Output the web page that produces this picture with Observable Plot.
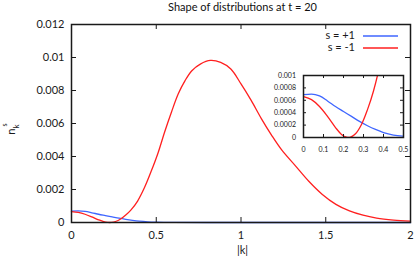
<!DOCTYPE html>
<html><head><meta charset="utf-8">
<script src="https://cdn.jsdelivr.net/npm/d3@7"></script>
<script src="https://cdn.jsdelivr.net/npm/@observablehq/plot@0.6"></script>
<style>
body{margin:0;background:#fff;}
#wrap{position:relative;width:416px;height:259px;font-family:Lato,sans-serif;overflow:hidden;}
#wrap svg{position:absolute;left:0;top:0;}
#title{position:absolute;left:71px;width:343px;top:1px;line-height:12px;text-align:center;font-size:11px;color:#111;}
</style></head><body>
<div id="wrap"><div id="title">Shape of distributions at t = 20</div></div>
<script>
// ---- data ----
const seriesNames = ["s = +1", "s = -1"];
const seriesColors = ["#3f66ff", "#ff1f1f"];

const kBlue = [0, 0.04, 0.08, 0.12, 0.16, 0.2, 0.24, 0.28, 0.32, 0.36, 0.4, 0.45, 0.5, 0.6, 0.8, 2.0];
const nBlue = [0.00069, 0.0007, 0.00067, 0.00059, 0.0005, 0.00042, 0.00034, 0.00026, 0.00019, 0.00013, 0.00008, 0.00004, 0.00002, 0.000005, 0, 0];

const kRed = [0, 0.04, 0.08, 0.12, 0.16, 0.19, 0.215, 0.235, 0.26, 0.29, 0.32, 0.35, 0.39, 0.43, 0.47, 0.51, 0.55, 0.59, 0.63, 0.67, 0.71, 0.76, 0.82, 0.88, 0.94, 1.0, 1.06, 1.12, 1.18, 1.24, 1.32, 1.4, 1.48, 1.56, 1.64, 1.72, 1.8, 1.9, 2.0];
const nRed = [0.00066, 0.00061, 0.0005, 0.00034, 0.00016, 0.00005, 0.000005, 0.000005, 0.00006, 0.00021, 0.00045, 0.00075, 0.0013, 0.0021, 0.0031, 0.0042, 0.0055, 0.0067, 0.0078, 0.0086, 0.0092, 0.0096, 0.00982, 0.0097, 0.0093, 0.0084, 0.0074, 0.0063, 0.0053, 0.0044, 0.00345, 0.0025, 0.0017, 0.0011, 0.0007, 0.00044, 0.00027, 0.00015, 0.00008];

const mainXTicks = [0, 0.5, 1, 1.5, 2];
const mainYTicks = [0, 0.002, 0.004, 0.006, 0.008, 0.01, 0.012];
const insetXTicks = [0, 0.1, 0.2, 0.3, 0.4, 0.5];
const insetYTicks = [0, 0.0002, 0.0004, 0.0006, 0.0008, 0.001];

const xLabel = "|k|";
const titleText = "Shape of distributions at t = 20";

// ---- build tables ----
const blue = kBlue.map((k, i) => ({k, n: nBlue[i]}));
const red = kRed.map((k, i) => ({k, n: nRed[i]}));

const W = 416, H = 259;
const fmt = d => String(d);
const ink = "#1a1a1a";

// main chart
const mL = 71, mR = 6, mT = 24, mB = 37;
const pw = W - mL - mR, ph = H - mT - mB;
const main = Plot.plot({
  width: W, height: H, marginLeft: mL, marginRight: mR, marginTop: mT, marginBottom: mB,
  style: {fontFamily: "Lato, sans-serif", fontSize: "11px", background: "transparent", color: ink},
  x: {domain: [0, 2]},
  y: {domain: [0, 0.012]},
  marks: [
    Plot.line(blue, {x: "k", y: "n", stroke: seriesColors[0], strokeWidth: 1.3, curve: "monotone-x"}),
    Plot.line(red, {x: "k", y: "n", stroke: seriesColors[1], strokeWidth: 1.3, curve: "catmull-rom"}),
    Plot.ruleX(mainXTicks, {insetTop: ph - 5, stroke: ink}),
    Plot.ruleX(mainXTicks, {insetBottom: ph - 5, stroke: ink}),
    Plot.ruleY(mainYTicks, {insetRight: pw - 5, stroke: ink}),
    Plot.ruleY(mainYTicks, {insetLeft: pw - 5, stroke: ink}),
    Plot.axisX(mainXTicks, {tickSize: 0, tickPadding: 9, tickFormat: fmt, label: null}),
    Plot.axisY(mainYTicks, {tickSize: 0, tickPadding: 7, tickFormat: fmt, label: null}),
    Plot.frame({stroke: ink, strokeWidth: 1.5}),
    Plot.text([xLabel], {text: d => d, frameAnchor: "bottom", dy: 31.5, dx: 1.5, fontSize: 11})
  ]
});

// inset chart
const iL = 303, iR = W - 403, iT = 75, iB = H - 137;
const ipw = W - iL - iR, iph = H - iT - iB;
const inset = Plot.plot({
  width: W, height: H, marginLeft: iL, marginRight: iR, marginTop: iT, marginBottom: iB,
  style: {fontFamily: "Lato, sans-serif", fontSize: "7px", background: "transparent", color: ink},
  x: {domain: [0, 0.5]},
  y: {domain: [0, 0.001]},
  marks: [
    Plot.frame({fill: "white"}),
    Plot.line(blue.filter(d => d.k <= 0.8), {x: "k", y: "n", stroke: seriesColors[0], strokeWidth: 1.3, curve: "monotone-x", clip: true}),
    Plot.line(red.filter(d => d.k <= 0.5), {x: "k", y: "n", stroke: seriesColors[1], strokeWidth: 1.3, curve: "catmull-rom", clip: true}),
    Plot.ruleX(insetXTicks, {insetTop: iph - 3, stroke: ink}),
    Plot.ruleX(insetXTicks, {insetBottom: iph - 3, stroke: ink}),
    Plot.ruleY(insetYTicks, {insetRight: ipw - 3, stroke: ink}),
    Plot.ruleY(insetYTicks, {insetLeft: ipw - 3, stroke: ink}),
    Plot.axisX(insetXTicks, {tickSize: 0, tickPadding: 9.5, tickFormat: fmt, label: null}),
    Plot.axisY(insetYTicks, {tickSize: 0, tickPadding: 7.5, tickFormat: fmt, label: null}),
    Plot.frame({stroke: ink, strokeWidth: 1.5})
  ]
});

const wrap = document.getElementById("wrap");
wrap.appendChild(main);
wrap.appendChild(inset);
document.getElementById("title").textContent = titleText;

// y-axis label n_k^s and legend
const svg = d3.select(main);
const yl = svg.append("text")
  .attr("transform", "translate(15,129) rotate(-90)")
  .attr("font-size", 11).attr("fill", ink).attr("font-family", "Lato, sans-serif");
yl.append("tspan").text("n");
yl.append("tspan").attr("font-size", 8).attr("dy", 3.5).text("k");
yl.append("tspan").attr("font-size", 7).attr("dx", -2).attr("dy", -11.5).text("s");

const lg = svg.append("g").attr("font-family", "Lato, sans-serif").attr("font-size", 11);
seriesNames.forEach((name, i) => {
  const y = 36 + i * 12;
  lg.append("text").attr("x", 355).attr("y", y).attr("text-anchor", "end")
    .attr("dominant-baseline", "middle").attr("fill", ink).text(name);
  lg.append("line").attr("x1", 363).attr("x2", 398).attr("y1", y).attr("y2", y)
    .attr("stroke", seriesColors[i]).attr("stroke-width", 1.3);
});
</script>
</body></html>
